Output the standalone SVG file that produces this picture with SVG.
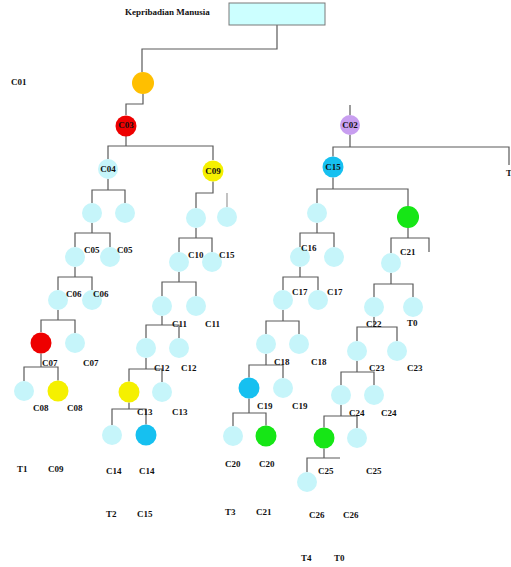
<svg xmlns="http://www.w3.org/2000/svg" width="511" height="567" viewBox="0 0 511 567">
<style>
.t{font-family:"Liberation Serif","Times New Roman",serif;font-weight:bold;font-size:9px;fill:#111}
.m{text-anchor:middle}
.c{fill:none;stroke:#5a5a5a;stroke-width:1.2}
.s{fill:none;stroke:#9a9a9a;stroke-width:1.2}
.lc{fill:#c6f5fa}
.bl{fill:#14c0f0}
.gr{fill:#12e612}
.ye{fill:#f5f000}
.rd{fill:#ee0000}
.pu{fill:#c89ef0}
.or{fill:#ffbf00}
</style>
<defs>
<filter id="soft" x="-30%" y="-30%" width="160%" height="160%"><feGaussianBlur stdDeviation="0.5"/></filter>
</defs>
<rect width="511" height="567" fill="#ffffff"/>
<g id="connectors">
<path class="c" d="M277,25 V49 H142 V72"/>
<path class="c" d="M143,94 V104 H126 V115"/>
<path class="c" d="M126,136 V146 M108,159 V146 H213 V160"/>
<path class="c" d="M108,179 V190 M92,203 V190 H125 V203"/>
<path class="c" d="M92,223 V233 M75,247 V233 H110 V247"/>
<path class="c" d="M75,267 V277 M58,290 V277 H92 V290"/>
<path class="c" d="M58,310 V320 M41,332 V320 H75 V333"/>
<path class="c" d="M41,353.5 V367 M24,381 V367 H58 V380.5"/>
<path class="c" d="M213,181.5 V193 H196 V208"/>
<path class="s" d="M227,193 V207"/>
<path class="c" d="M196,228 V238 M179,252 V238 H212 V252"/>
<path class="c" d="M179,272 V282 M162,296 V282 H196 V296"/>
<path class="c" d="M162,316 V325 M146,338 V325 H179 V338"/>
<path class="c" d="M146,358 V369 M129,381.5 V369 H162 V382"/>
<path class="c" d="M129,402.5 V409 M112,425 V409 H146 V424.5"/>
<path class="c" d="M350,105 V115"/>
<path class="c" d="M350,135 V147 M333,156.5 V147 H509 V165"/>
<path class="c" d="M333,177.5 V189 M317,203 V189 H408 V206"/>
<path class="c" d="M317,223 V233 M300,247 V233 H334 V247"/>
<path class="c" d="M300,267 V277 M283,290 V277 H318 V290"/>
<path class="c" d="M283,310 V321 M266,334 V321 H299 V334"/>
<path class="c" d="M266,354 V365 M249,377.5 V365 H283 V378"/>
<path class="c" d="M249,398.5 V413 M233,426 V413 H266 V425.5"/>
<path class="c" d="M408,228 V238 M391,253 V238 H429 V252"/>
<path class="c" d="M391,273 V284 M374,297 V284 H413 V297"/>
<path class="c" d="M374,317 V327 M357,341 V327 H397 V341"/>
<path class="c" d="M357,361 V372 M341,385 V372 H374 V385"/>
<path class="c" d="M341,405 V416 M324,427.5 V416 H357 V428"/>
<path class="c" d="M324,448.5 V458 M307,472 V458 H340"/>
</g>
<g id="root"><rect x="229" y="3" width="96" height="22" fill="#ccffff" stroke="#7a7a7a" stroke-width="1"/></g>
<g id="title"><text class="t" x="125" y="15">Kepribadian Manusia</text></g>
<g id="n-orange"><circle class="or" cx="143" cy="83" r="11" filter="url(#soft)"/></g>
<g id="n-c03"><circle class="rd" cx="126" cy="126" r="10.5" filter="url(#soft)"/><text class="t m" x="126" y="128">C03</text></g>
<g id="n-c04"><circle class="lc" cx="108" cy="169" r="10" filter="url(#soft)"/><text class="t m" x="108" y="172">C04</text></g>
<g id="n-c09"><circle class="ye" cx="213" cy="171" r="10.5" filter="url(#soft)"/><text class="t m" x="213" y="174">C09</text></g>
<g id="n-l1a"><circle class="lc" cx="92" cy="213" r="10" filter="url(#soft)"/></g>
<g id="n-l1b"><circle class="lc" cx="125" cy="213" r="10" filter="url(#soft)"/></g>
<g id="n-l2a"><circle class="lc" cx="75" cy="257" r="10" filter="url(#soft)"/></g>
<g id="n-l2b"><circle class="lc" cx="110" cy="257" r="10" filter="url(#soft)"/></g>
<g id="n-l3a"><circle class="lc" cx="58" cy="300" r="10" filter="url(#soft)"/></g>
<g id="n-l3b"><circle class="lc" cx="92" cy="300" r="10" filter="url(#soft)"/></g>
<g id="n-l4a"><circle class="rd" cx="41" cy="343" r="10.5" filter="url(#soft)"/></g>
<g id="n-l4b"><circle class="lc" cx="75" cy="343" r="10" filter="url(#soft)"/></g>
<g id="n-l5a"><circle class="lc" cx="24" cy="391" r="10" filter="url(#soft)"/></g>
<g id="n-l5b"><circle class="ye" cx="58" cy="391" r="10.5" filter="url(#soft)"/></g>
<g id="n-m1a"><circle class="lc" cx="196" cy="218" r="10" filter="url(#soft)"/></g>
<g id="n-m1b"><circle class="lc" cx="227" cy="217" r="10" filter="url(#soft)"/></g>
<g id="n-m2a"><circle class="lc" cx="179" cy="262" r="10" filter="url(#soft)"/></g>
<g id="n-m2b"><circle class="lc" cx="212" cy="262" r="10" filter="url(#soft)"/></g>
<g id="n-m3a"><circle class="lc" cx="162" cy="306" r="10" filter="url(#soft)"/></g>
<g id="n-m3b"><circle class="lc" cx="196" cy="306" r="10" filter="url(#soft)"/></g>
<g id="n-m4a"><circle class="lc" cx="146" cy="348" r="10" filter="url(#soft)"/></g>
<g id="n-m4b"><circle class="lc" cx="179" cy="348" r="10" filter="url(#soft)"/></g>
<g id="n-m5a"><circle class="ye" cx="129" cy="392" r="10.5" filter="url(#soft)"/></g>
<g id="n-m5b"><circle class="lc" cx="162" cy="392" r="10" filter="url(#soft)"/></g>
<g id="n-m6a"><circle class="lc" cx="112" cy="435" r="10" filter="url(#soft)"/></g>
<g id="n-m6b"><circle class="bl" cx="146" cy="435" r="10.5" filter="url(#soft)"/></g>
<g id="n-c02"><circle class="pu" cx="350" cy="125" r="10" filter="url(#soft)"/><text class="t m" x="350" y="128">C02</text></g>
<g id="n-c15"><circle class="bl" cx="333" cy="167" r="10.5" filter="url(#soft)"/><text class="t m" x="333" y="170">C15</text></g>
<g id="n-r1a"><circle class="lc" cx="317" cy="213" r="10" filter="url(#soft)"/></g>
<g id="n-r1b"><circle class="gr" cx="408" cy="217" r="11" filter="url(#soft)"/></g>
<g id="n-r2a"><circle class="lc" cx="300" cy="257" r="10" filter="url(#soft)"/></g>
<g id="n-r2b"><circle class="lc" cx="334" cy="257" r="10" filter="url(#soft)"/></g>
<g id="n-r3a"><circle class="lc" cx="283" cy="300" r="10" filter="url(#soft)"/></g>
<g id="n-r3b"><circle class="lc" cx="318" cy="300" r="10" filter="url(#soft)"/></g>
<g id="n-r4a"><circle class="lc" cx="266" cy="344" r="10" filter="url(#soft)"/></g>
<g id="n-r4b"><circle class="lc" cx="299" cy="344" r="10" filter="url(#soft)"/></g>
<g id="n-r5a"><circle class="bl" cx="249" cy="388" r="10.5" filter="url(#soft)"/></g>
<g id="n-r5b"><circle class="lc" cx="283" cy="388" r="10" filter="url(#soft)"/></g>
<g id="n-r6a"><circle class="lc" cx="233" cy="436" r="10" filter="url(#soft)"/></g>
<g id="n-r6b"><circle class="gr" cx="266" cy="436" r="10.5" filter="url(#soft)"/></g>
<g id="n-g1"><circle class="lc" cx="391" cy="263" r="10" filter="url(#soft)"/></g>
<g id="n-g2a"><circle class="lc" cx="374" cy="307" r="10" filter="url(#soft)"/></g>
<g id="n-g2b"><circle class="lc" cx="413" cy="307" r="10" filter="url(#soft)"/></g>
<g id="n-g3a"><circle class="lc" cx="357" cy="351" r="10" filter="url(#soft)"/></g>
<g id="n-g3b"><circle class="lc" cx="397" cy="351" r="10" filter="url(#soft)"/></g>
<g id="n-g4a"><circle class="lc" cx="341" cy="395" r="10" filter="url(#soft)"/></g>
<g id="n-g4b"><circle class="lc" cx="374" cy="395" r="10" filter="url(#soft)"/></g>
<g id="n-g5a"><circle class="gr" cx="324" cy="438" r="10.5" filter="url(#soft)"/></g>
<g id="n-g5b"><circle class="lc" cx="357" cy="438" r="10" filter="url(#soft)"/></g>
<g id="n-g6"><circle class="lc" cx="307" cy="482" r="10" filter="url(#soft)"/></g>
<g id="labels">
<text class="t" x="11" y="85">C01</text>
<text class="t" x="84" y="253">C05</text>
<text class="t" x="117" y="253">C05</text>
<text class="t" x="66" y="297">C06</text>
<text class="t" x="93" y="297">C06</text>
<text class="t" x="42" y="366">C07</text>
<text class="t" x="83" y="366">C07</text>
<text class="t" x="33" y="411">C08</text>
<text class="t" x="67" y="411">C08</text>
<text class="t" x="17" y="472">T1</text>
<text class="t" x="48" y="472">C09</text>
<text class="t" x="188" y="258">C10</text>
<text class="t" x="219" y="258">C15</text>
<text class="t" x="172" y="327">C11</text>
<text class="t" x="205" y="327">C11</text>
<text class="t" x="154" y="371">C12</text>
<text class="t" x="181" y="371">C12</text>
<text class="t" x="137" y="415">C13</text>
<text class="t" x="172" y="415">C13</text>
<text class="t" x="106" y="474">C14</text>
<text class="t" x="139" y="474">C14</text>
<text class="t" x="106" y="517">T2</text>
<text class="t" x="137" y="517">C15</text>
<text class="t" x="506" y="176">T</text>
<text class="t" x="301" y="251">C16</text>
<text class="t" x="400" y="255">C21</text>
<text class="t" x="292" y="295">C17</text>
<text class="t" x="327" y="295">C17</text>
<text class="t" x="366" y="327">C22</text>
<text class="t" x="407" y="326">T0</text>
<text class="t" x="274" y="365">C18</text>
<text class="t" x="311" y="365">C18</text>
<text class="t" x="369" y="371">C23</text>
<text class="t" x="407" y="371">C23</text>
<text class="t" x="257" y="409">C19</text>
<text class="t" x="292" y="409">C19</text>
<text class="t" x="349" y="416">C24</text>
<text class="t" x="381" y="416">C24</text>
<text class="t" x="225" y="467">C20</text>
<text class="t" x="259" y="467">C20</text>
<text class="t" x="318" y="474">C25</text>
<text class="t" x="366" y="474">C25</text>
<text class="t" x="225" y="515">T3</text>
<text class="t" x="256" y="515">C21</text>
<text class="t" x="309" y="518">C26</text>
<text class="t" x="343" y="518">C26</text>
<text class="t" x="301" y="561">T4</text>
<text class="t" x="334" y="561">T0</text>
</g>
</svg>
